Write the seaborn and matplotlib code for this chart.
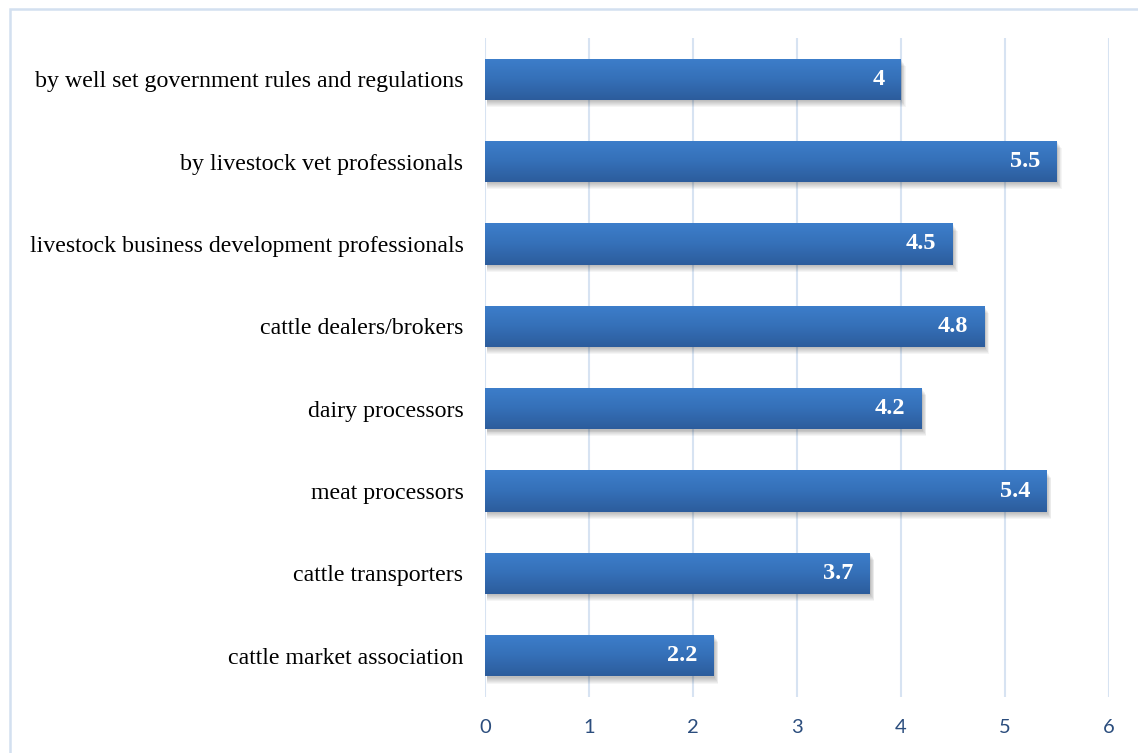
import numpy as np
import pandas as pd
import matplotlib
matplotlib.use("Agg")
import matplotlib.pyplot as plt
from matplotlib.patches import Rectangle
from matplotlib.colors import LinearSegmentedColormap
import seaborn as sns

# Survey responses (mean scores)
categories = [
    "by well set government rules and regulations",
    "by livestock vet professionals",
    "livestock business development professionals",
    "cattle dealers/brokers",
    "dairy processors",
    "meat processors",
    "cattle transporters",
    "cattle market association",
]
scores = [4, 5.5, 4.5, 4.8, 4.2, 5.4, 3.7, 2.2]
value_labels = ["4", "5.5", "4.5", "4.8", "4.2", "5.4", "3.7", "2.2"]
x_ticks = [0, 1, 2, 3, 4, 5, 6]

df = pd.DataFrame({"category": categories, "score": scores})

sns.set_theme(style="white")
plt.rcParams["font.family"] = ["Liberation Serif", "DejaVu Serif"]

W, H = 1138, 753
fig = plt.figure(figsize=(W / 100, H / 100), dpi=100)
ax = fig.add_axes([485 / W, 1 - 697 / H, (1109 - 485) / W, (697 - 38) / H])

sns.barplot(data=df, x="score", y="category", orient="h", width=0.5,
            color="#3572bd", saturation=1, linewidth=0, edgecolor="none",
            ax=ax, zorder=3)

ax.set_xlim(0, 6)
ax.set_ylim(7.5, -0.5)
ax.set_xticks(x_ticks)
ax.set_xticklabels([str(t) for t in x_ticks])
ax.xaxis.grid(True, color="#d7e3f2", linewidth=1.5, zorder=0)
ax.yaxis.grid(False)
for s in ax.spines.values():
    s.set_visible(False)
ax.set_xlabel("")
ax.set_ylabel("")
ax.tick_params(axis="y", length=0, pad=15.5, labelsize=17.2, labelcolor="black")
ax.tick_params(axis="x", length=0, pad=16, labelsize=14.5, labelcolor="#2b4d7d")
for lbl in ax.get_xticklabels():
    lbl.set_fontfamily(["Lato", "DejaVu Sans"])

# vertical gradient fill and soft shadow for each bar
cmap = LinearSegmentedColormap.from_list("bar", ["#3d7ecb", "#3570b8", "#2c5c9c"])
grad = np.linspace(0, 1, 256).reshape(-1, 1)
for patch in list(ax.patches):
    x0, y0 = patch.get_x(), patch.get_y()
    w, h = patch.get_width(), patch.get_height()
    # soft shadow, spreading mostly downward
    for i in range(7):
        dx = 0.008 + i * 0.006
        dy = 0.015 + i * 0.012
        ax.add_patch(Rectangle((x0 + 0.02, y0 + dy), w + dx - 0.02, h,
                               facecolor="#000000", alpha=0.04,
                               edgecolor="none", zorder=2))
    im = ax.imshow(grad, cmap=cmap, aspect="auto", extent=(x0, x0 + w, y0 + h, y0),
                   zorder=4, interpolation="bilinear")
    im.set_clip_path(patch)

ax.set_xlim(0, 6)
ax.set_ylim(7.5, -0.5)

for i, (v, t) in enumerate(zip(scores, value_labels)):
    ax.annotate(t, xy=(v, i), xytext=(-11.8, 0), textcoords="offset points",
                ha="right", va="center", color="white", fontsize=17.5,
                fontweight="bold", zorder=6)

# outer frame
fig.add_artist(Rectangle((10 / W, -0.1), 1.2, 1 - 9.5 / H + 0.1, transform=fig.transFigure,
                         fill=False, edgecolor="#d3e0f0", linewidth=1.8))

fig.savefig("out.png", dpi=100, facecolor="white")
